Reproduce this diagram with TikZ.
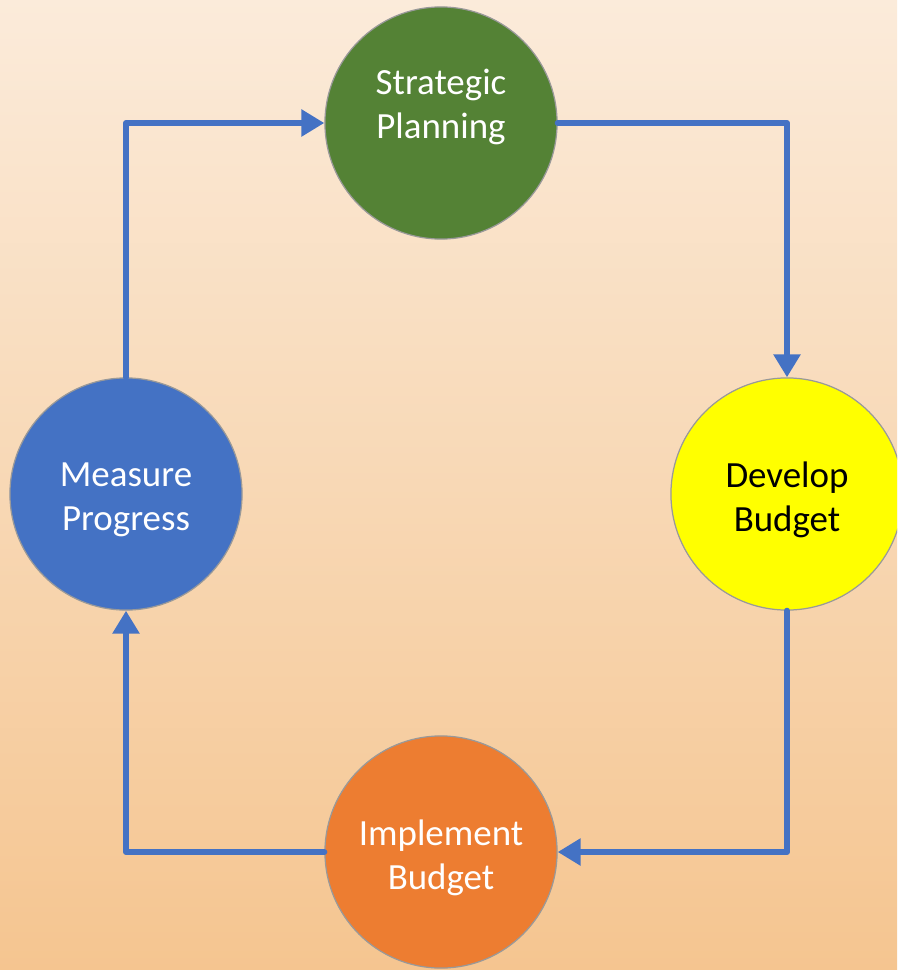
\documentclass[tikz,border=0pt]{standalone}
\usepackage{fontspec}
\setmainfont{Carlito}
\usepackage{tikz}
\usetikzlibrary{arrows.meta, positioning}
\definecolor{bgtop}{RGB}{251,235,218}
\definecolor{bgbottom}{RGB}{245,197,144}
\definecolor{flowblue}{RGB}{68,114,196}
\definecolor{planGreen}{RGB}{84,130,53}
\definecolor{devYellow}{RGB}{255,255,0}
\definecolor{measBlue}{RGB}{68,114,196}
\definecolor{implOrange}{RGB}{237,125,49}
\tikzset{
  stage/.style = {circle, draw=gray!80, line width=0.35pt, minimum size=2.32cm,
                  inner sep=0pt},
  tag/.style   = {align=center, text=white, yshift=-1.7pt,
                  font=\fontsize{10.5pt}{12.6pt}\selectfont},
  flow/.style  = {draw=flowblue, line width=1.7pt, line cap=round, line join=round,
                  -{Triangle[length=0.23cm, width=0.26cm]}}
}
\begin{document}
\begin{tikzpicture}[x=0.01cm, y=-0.01cm]
  % background
  \useasboundingbox (0,0) rectangle (897,970);
  \clip (0,0) rectangle (897,970);
  \shade[top color=bgtop, bottom color=bgbottom] (0,0) rectangle (897,970);
  % stages
  \node [stage, fill=planGreen,
         label={[tag, yshift=6.3pt]center:{Strategic\\Planning}}] (plan) at (441,123) {};
  \node [stage, fill=devYellow,
         label={[tag, text=black]center:{Develop\\Budget}}] (dev) at (787,494) {};
  \node [stage, fill=implOrange,
         label={[tag]center:{Implement\\Budget}}] (impl) at (441,852) {};
  \node [stage, fill=measBlue,
         label={[tag]center:{Measure\\Progress}}] (meas) at (126,494) {};
  % cycle
  \draw [flow] (meas.north) |- (plan.west);
  \draw [flow] (plan.east) -| (dev.north);
  \draw [flow] (dev.south) |- (impl.east);
  \draw [flow] (impl.west) -| (meas.south);
\end{tikzpicture}
\end{document}
